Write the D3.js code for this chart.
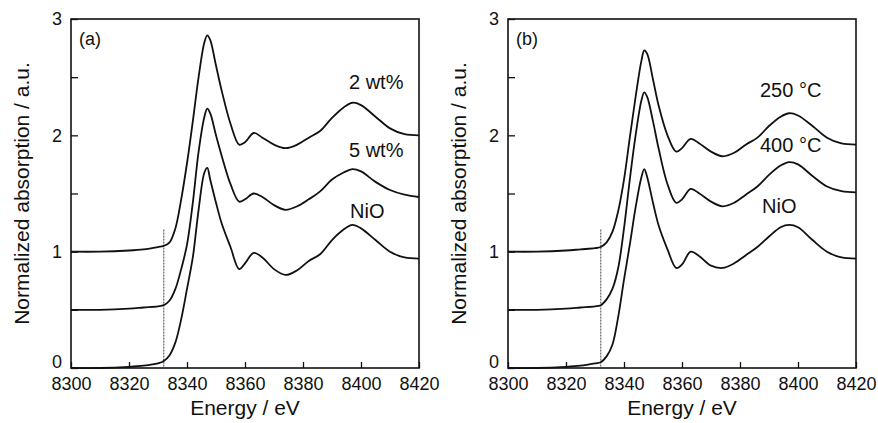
<!DOCTYPE html>
<html>
<head>
<meta charset="utf-8">
<script src="https://cdn.jsdelivr.net/npm/d3@7/dist/d3.min.js"></script>
<style>
  body { margin: 0; background: #fff; }
  svg { display: block; font-family: "Liberation Sans", Arial, sans-serif; }
</style>
</head>
<body>
<svg id="chart" width="878" height="423"></svg>
<script>
// energy grid (eV) shared by all spectra
const energy = [8300, 8310, 8320, 8325, 8330, 8332, 8334, 8336, 8338, 8340, 8342, 8344, 8346, 8347, 8348,
  8350, 8352, 8355, 8358, 8360, 8363, 8366, 8370, 8374, 8378, 8382, 8386, 8390, 8394, 8397, 8400, 8405, 8410, 8415, 8420];

// panel (a)
const wt2 = [1.00, 1.00, 1.01, 1.02, 1.04, 1.05, 1.08, 1.20, 1.45, 1.76, 2.12, 2.50, 2.80, 2.86, 2.82,
  2.60, 2.38, 2.10, 1.92, 1.94, 2.02, 1.98, 1.92, 1.89, 1.92, 1.98, 2.04, 2.15, 2.24, 2.28, 2.26, 2.16, 2.06, 2.01, 2.00];
const wt5 = [0.50, 0.50, 0.51, 0.52, 0.53, 0.54, 0.58, 0.68, 0.85, 1.06, 1.42, 1.86, 2.16, 2.23, 2.19,
  2.00, 1.82, 1.58, 1.43, 1.45, 1.50, 1.47, 1.40, 1.36, 1.39, 1.45, 1.52, 1.62, 1.68, 1.71, 1.69, 1.60, 1.53, 1.49, 1.47];
const nioA = [0.00, 0.00, 0.01, 0.02, 0.04, 0.06, 0.11, 0.22, 0.42, 0.68, 0.95, 1.36, 1.68, 1.72, 1.62,
  1.42, 1.24, 1.04, 0.85, 0.90, 0.99, 0.95, 0.85, 0.80, 0.84, 0.92, 0.98, 1.10, 1.19, 1.23, 1.20, 1.10, 1.00, 0.95, 0.94];

// panel (b)
const c250 = [1.00, 1.00, 1.01, 1.02, 1.03, 1.04, 1.08, 1.17, 1.35, 1.62, 1.98, 2.33, 2.64, 2.73, 2.70,
  2.48, 2.25, 2.00, 1.86, 1.89, 1.97, 1.93, 1.86, 1.82, 1.85, 1.92, 1.98, 2.08, 2.16, 2.19, 2.17, 2.08, 1.98, 1.93, 1.92];
const c400 = [0.50, 0.50, 0.51, 0.52, 0.53, 0.54, 0.59, 0.68, 0.86, 1.20, 1.62, 2.00, 2.30, 2.37, 2.33,
  2.12, 1.88, 1.58, 1.42, 1.45, 1.54, 1.50, 1.43, 1.39, 1.42, 1.49, 1.56, 1.66, 1.74, 1.77, 1.75, 1.65, 1.56, 1.52, 1.51];
const nioB = [0.00, 0.00, 0.01, 0.02, 0.04, 0.05, 0.10, 0.20, 0.44, 0.76, 1.06, 1.38, 1.64, 1.71, 1.64,
  1.42, 1.22, 1.02, 0.86, 0.89, 1.00, 0.96, 0.88, 0.86, 0.90, 0.97, 1.04, 1.13, 1.21, 1.23, 1.21, 1.10, 1.00, 0.95, 0.94];

const xTicks = [8300, 8320, 8340, 8360, 8380, 8400, 8420];
const yTicks = [0, 0.5, 1, 1.5, 2, 2.5, 3];
const edgeEnergy = 8332; // dotted marker line
const edgeTop = 1.19;

const panels = [
  { left: 71, tag: '(a)', series: [wt2, wt5, nioA], labels: ['2 wt%', '5 wt%', 'NiO'],
    labelPos: [[349, 89], [349, 157], [350, 218]] },
  { left: 508, tag: '(b)', series: [c250, c400, nioB], labels: ['250 °C', '400 °C', 'NiO'],
    labelPos: [[760, 97], [760, 152], [762, 213]] }
];

const svg = d3.select('#chart');
const plotTop = 19, w = 348, h = 349;

panels.forEach(p => {
  const g = svg.append('g').attr('transform', `translate(${p.left},${plotTop})`);
  const x = d3.scaleLinear().domain([8300, 8420]).range([0, w]);
  const y = d3.scaleLinear().domain([0, 3]).range([h, 0]);

  // axes with inward ticks
  const xAxis = g.append('g')
    .attr('transform', `translate(0,${h})`)
    .call(d3.axisBottom(x).tickValues(xTicks).tickSize(-6).tickPadding(9).tickFormat(d3.format('d')));
  const yAxis = g.append('g')
    .call(d3.axisLeft(y).tickValues(yTicks).tickSize(-7).tickPadding(9)
      .tickFormat(d => Number.isInteger(d) ? d : ''));

  [xAxis, yAxis].forEach(a => {
    a.select('.domain').remove();
    a.selectAll('line').attr('stroke', '#111').attr('stroke-width', 1.3);
    a.selectAll('text').attr('fill', '#111').style('font-size', '18px');
  });
  // the "0" sits a little above the corner so it clears 8300
  yAxis.selectAll('.tick').filter(d => d === 0).select('text').attr('y', -6);

  // frame
  g.append('rect')
    .attr('width', w).attr('height', h)
    .attr('fill', 'none').attr('stroke', '#111').attr('stroke-width', 1.6);

  // dotted edge marker
  g.append('line')
    .attr('x1', x(edgeEnergy)).attr('x2', x(edgeEnergy))
    .attr('y1', y(edgeTop)).attr('y2', y(0))
    .attr('stroke', '#444').attr('stroke-width', 1).attr('stroke-dasharray', '2,1');

  const line = d3.line()
    .x((d, i) => x(energy[i]))
    .y(d => y(d))
    .curve(d3.curveCatmullRom.alpha(0.5));

  g.selectAll('path.spec')
    .data(p.series)
    .join('path')
    .attr('class', 'spec')
    .attr('d', line)
    .attr('fill', 'none')
    .attr('stroke', '#111')
    .attr('stroke-width', 1.8);

  g.append('text')
    .attr('x', 8).attr('y', 26)
    .style('font-size', '18px').attr('fill', '#111')
    .text(p.tag);

  // series labels (absolute coords converted to panel coords)
  p.labels.forEach((t, i) => {
    g.append('text')
      .attr('x', p.labelPos[i][0] - p.left)
      .attr('y', p.labelPos[i][1] - plotTop)
      .style('font-size', '20px').attr('fill', '#111')
      .text(t);
  });

  // axis titles
  g.append('text')
    .attr('x', w / 2).attr('y', 396)
    .attr('text-anchor', 'middle')
    .style('font-size', '21px').attr('fill', '#111')
    .text('Energy / eV');
  g.append('text')
    .attr('transform', `translate(-42,${h / 2}) rotate(-90)`)
    .attr('text-anchor', 'middle')
    .style('font-size', '21px').attr('fill', '#111')
    .text('Normalized absorption / a.u.');
});
</script>
</body>
</html>
